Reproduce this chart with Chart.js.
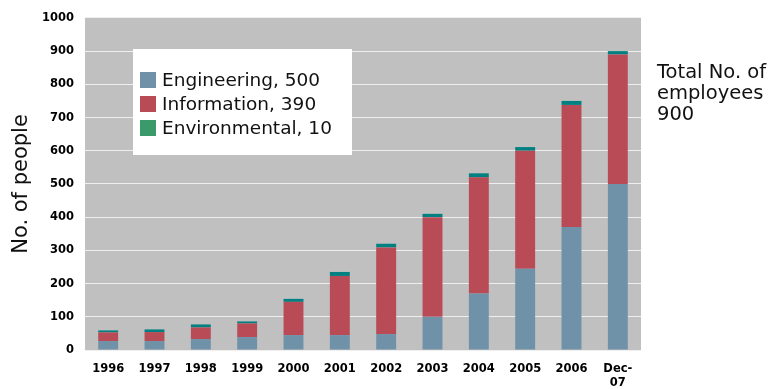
<!DOCTYPE html>
<html lang="en">
<head>
    <meta charset="UTF-8">
    <title>No. of people</title>
    <script src="https://cdn.jsdelivr.net/npm/chart.js@4.4.1/dist/chart.umd.min.js"></script>
    <style>
        body {
            margin: 0;
            background: #ffffff;
        }
        .chart-container {
            position: relative;
            width: 773px;
            height: 389px;
        }
    </style>
</head>
<body>
    <div class="chart-container">
        <canvas id="staffChart"></canvas>
    </div>

    <script>
        const years = ['1996', '1997', '1998', '1999', '2000', '2001', '2002', '2003', '2004', '2005', '2006', ['Dec-', '07']];
        const engineering = [27, 27, 33, 39, 45, 45, 48, 100, 170, 245, 370, 500];
        const information = [26, 27, 35, 41, 100, 178, 261, 300, 350, 355, 368, 390];
        const environmental = [6, 8, 9, 6, 9, 12, 11, 10, 12, 11, 12, 10];
        const yTicks = [0, 100, 200, 300, 400, 500, 600, 700, 800, 900, 1000];

        const FONT = '"DejaVu Sans", Verdana, sans-serif';
        const last = arr => arr[arr.length - 1];
        const totalNow = last(engineering) + last(information) + last(environmental);

        // grey plot background
        const plotBackground = {
            id: 'plotBackground',
            beforeDraw(chart) {
                const { ctx, chartArea: a } = chart;
                ctx.save();
                ctx.fillStyle = '#c0c0c0';
                ctx.fillRect(a.left, a.top, a.right - a.left, a.bottom - a.top);
                ctx.restore();
            }
        };

        // legend box inside the plot + total text on the right
        const boxLegend = {
            id: 'boxLegend',
            afterDraw(chart) {
                const ctx = chart.ctx;
                ctx.save();
                ctx.fillStyle = '#ffffff';
                ctx.fillRect(133, 49, 219, 106);
                ctx.font = '18.5px ' + FONT;
                ctx.textBaseline = 'middle';
                chart.data.datasets.forEach((ds, i) => {
                    const y = 80 + i * 24;
                    ctx.fillStyle = ds.legendColor;
                    ctx.fillRect(140, y - 8, 16, 16);
                    ctx.fillStyle = '#111111';
                    ctx.fillText(ds.label + ', ' + last(ds.data), 162, y + 1);
                });
                ctx.font = '19.5px ' + FONT;
                ctx.fillStyle = '#111111';
                ['Total No. of', 'employees', String(totalNow)].forEach((t, i) => {
                    ctx.fillText(t, 657, 73 + i * 21);
                });
                ctx.restore();
            }
        };

        new Chart(document.getElementById('staffChart'), {
            type: 'bar',
            data: {
                labels: years,
                datasets: [
                    { label: 'Engineering', data: engineering, backgroundColor: '#7092a8', legendColor: '#7092a8' },
                    { label: 'Information', data: information, backgroundColor: '#b84b55', legendColor: '#b84b55' },
                    { label: 'Environmental', data: environmental, backgroundColor: '#008080', legendColor: '#3a9a6a' }
                ]
            },
            options: {
                responsive: true,
                maintainAspectRatio: false,
                animation: false,
                layout: { padding: { top: 13, right: 132, left: 0, bottom: 0 } },
                datasets: {
                    bar: { barPercentage: 0.43, categoryPercentage: 1, borderWidth: 0 }
                },
                scales: {
                    x: {
                        stacked: true,
                        grid: { display: false, drawTicks: false },
                        border: { display: false },
                        ticks: {
                            color: '#000000',
                            padding: 12,
                            maxRotation: 0,
                            autoSkip: false,
                            font: { family: FONT, size: 11.5, weight: 'bold', lineHeight: 1.2 }
                        },
                        afterFit: scale => { scale.height = 39; }
                    },
                    y: {
                        stacked: true,
                        min: 0,
                        max: 1000,
                        afterBuildTicks: scale => { scale.ticks = yTicks.map(v => ({ value: v })); },
                        grid: { color: '#eeeeee', lineWidth: 1, drawTicks: false },
                        border: { display: false },
                        ticks: {
                            color: '#000000',
                            padding: 11,
                            callback: v => String(v),
                            font: { family: FONT, size: 11.5, weight: 'bold' }
                        },
                        title: {
                            display: true,
                            text: 'No. of people',
                            color: '#111111',
                            padding: { top: 9, bottom: 0 },
                            font: { family: FONT, size: 21 }
                        },
                        afterFit: scale => { scale.width = 85; }
                    }
                },
                plugins: {
                    legend: { display: false },
                    tooltip: { enabled: false }
                }
            },
            plugins: [plotBackground, boxLegend]
        });
    </script>
</body>
</html>
